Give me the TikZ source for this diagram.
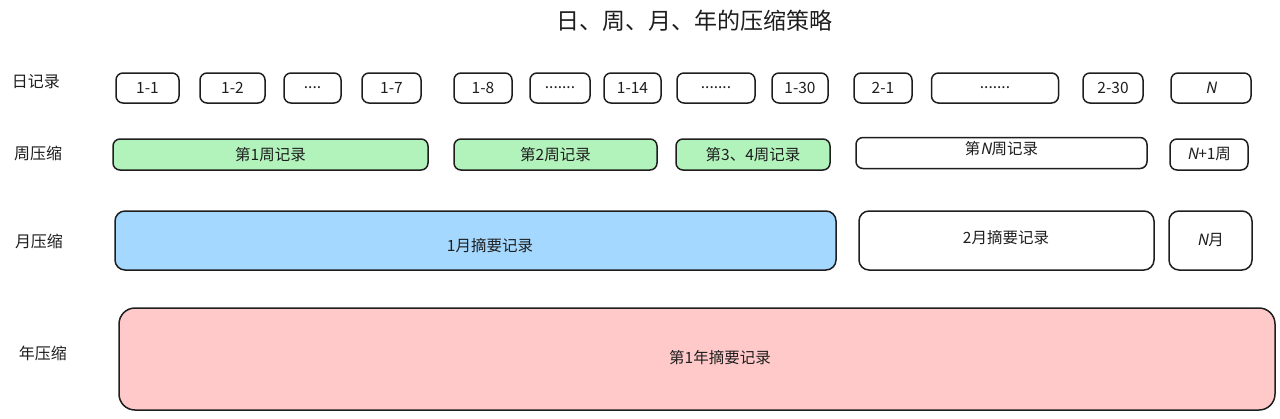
\documentclass[tikz,border=0pt]{standalone}
\usepackage{fontspec}
\setmainfont{Noto Sans CJK SC}
\newfontfamily\slantfont[FakeSlant=0.2]{Noto Sans CJK SC}
\newcommand{\Nv}{{\slantfont N}}
\usetikzlibrary{positioning}
\definecolor{InkBlack}{RGB}{30,30,30}
\definecolor{WeekGreen}{RGB}{178,242,187}
\definecolor{MonthBlue}{RGB}{165,216,255}
\definecolor{YearPink}{RGB}{255,201,201}

\begin{document}
\begin{tikzpicture}[x=1pt, y=-1pt, font=\fontsize{15.5}{18}\selectfont, text=InkBlack,
	rec/.style={rectangle, draw=InkBlack, line width=1.5pt, rounded corners=7pt,
		fill=white, align=center, inner sep=0pt},
	dayrec/.style={rec, minimum height=30pt},
	weekrec/.style={rec, minimum height=31pt},
	monthrec/.style={rec, rounded corners=10pt, minimum height=59pt},
	yearrec/.style={rec, rounded corners=16pt, minimum height=102pt, fill=YearPink},
	rowlabel/.style={font=\fontsize{16}{18}\selectfont}]

	\useasboundingbox (0,0) rectangle (1280,418);

	\node[font=\fontsize{23}{26}\selectfont] (title) at (694,21) {日、周、月、年的压缩策略};

	% row labels
	\node[rowlabel] (lday)   at (36,82)  {日记录};
	\node[rowlabel] (lweek)  at (38,153) {周压缩};
	\node[rowlabel] (lmonth) at (39,241) {月压缩};
	\node[rowlabel] (lyear)  at (43,353) {年压缩};

	% daily records
	\node[dayrec, minimum width=63pt]  (d1)  at (147.5,88) {1-1};
	\node[dayrec, minimum width=65pt]  (d2)  at (232.5,88) {1-2};
	\node[dayrec, minimum width=57pt]  (d3)  at (312.5,88) {....};
	\node[dayrec, minimum width=59pt]  (d7)  at (391.5,88) {1-7};
	\node[dayrec, minimum width=58pt]  (d8)  at (483,88)   {1-8};
	\node[dayrec, minimum width=60pt]  (d9)  at (560,88)   {.......};
	\node[dayrec, minimum width=57pt]  (d14) at (632.5,88) {1-14};
	\node[dayrec, minimum width=78pt]  (d15) at (716,88)   {.......};
	\node[dayrec, minimum width=56pt]  (d30) at (800,88)   {1-30};
	\node[dayrec, minimum width=58pt]  (e1)  at (883,88)   {2-1};
	\node[dayrec, minimum width=127pt] (e2)  at (995,88)   {.......};
	\node[dayrec, minimum width=60pt]  (e30) at (1113,88)  {2-30};
	\node[dayrec, minimum width=80pt]  (dn)  at (1211,88)  {\Nv};

	% weekly compression
	\node[weekrec, fill=WeekGreen, minimum width=315pt] (w1)  at (270.5,154.5) {第1周记录};
	\node[weekrec, fill=WeekGreen, minimum width=203pt] (w2)  at (555.5,154.5) {第2周记录};
	\node[weekrec, fill=WeekGreen, minimum width=154pt] (w34) at (753,154.5)   {第3、4周记录};
	\node[weekrec, minimum width=291pt] (wn)  at (1001.5,153) {};
	\node (wntext) at (1001.5,149) {第\Nv 周记录};
	\node[weekrec, minimum width=78pt]  (wn1) at (1209,154.5) {\Nv+1周};

	% monthly compression
	\node[monthrec, fill=MonthBlue, minimum width=721pt] (m1) at (475.5,240.5) {};
	\node (m1text) at (490,246) {1月摘要记录};
	\node[monthrec, minimum width=295pt] (m2) at (1006.5,240.5) {};
	\node (m2text) at (1006,238) {2月摘要记录};
	\node[monthrec, minimum width=83pt]  (mn) at (1210.5,240.5) {\Nv 月};

	% yearly compression
	\node[yearrec, minimum width=1156pt] (y1) at (697,359) {};
	\node (y1text) at (720,358) {第1年摘要记录};
\end{tikzpicture}
\end{document}
